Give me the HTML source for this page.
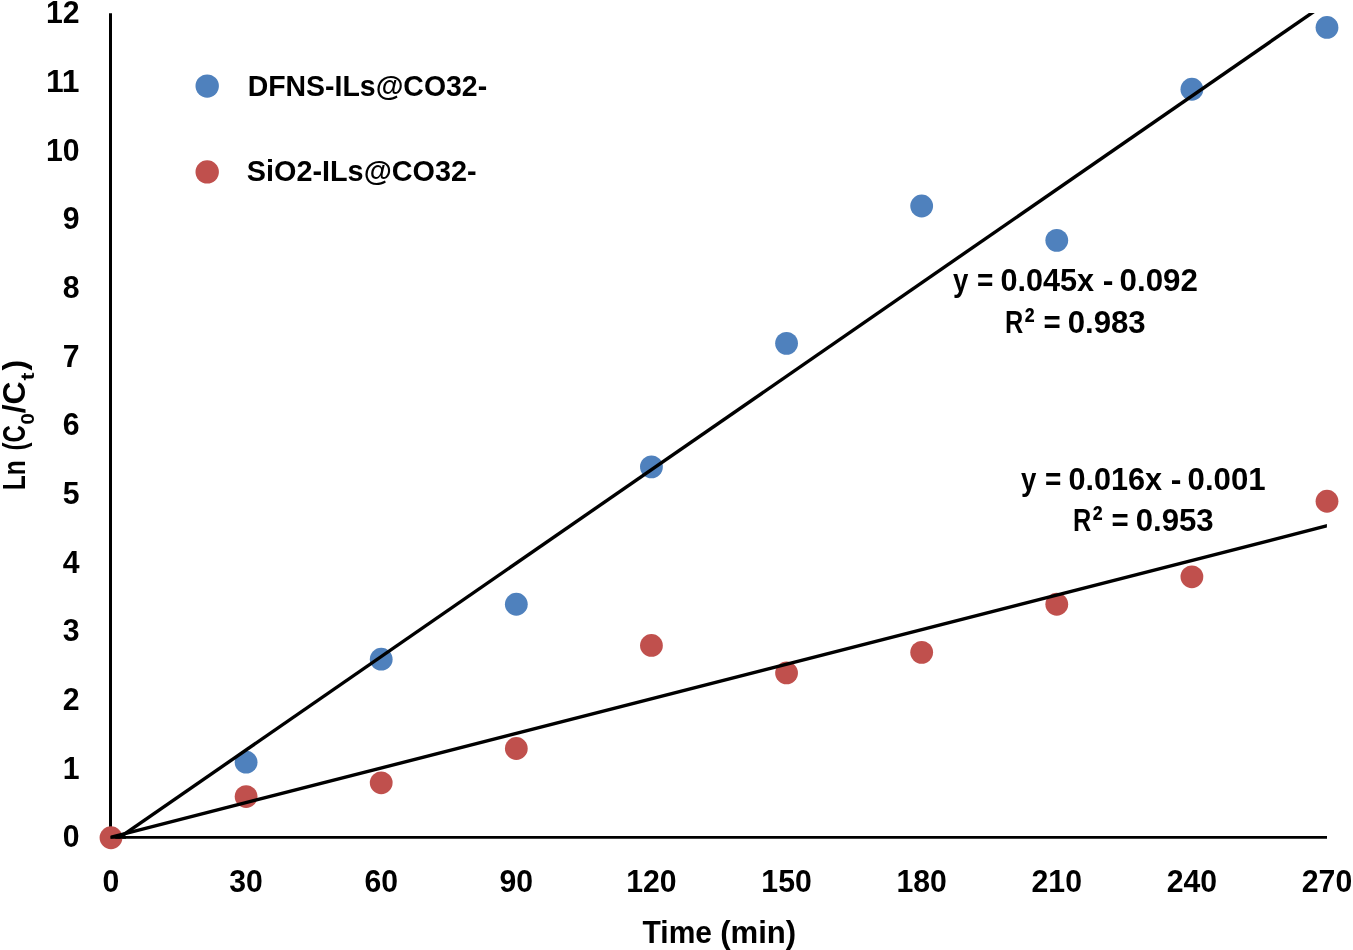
<!DOCTYPE html>
<html lang="en"><head><meta charset="utf-8"><title>Ln (C0/Ct) vs Time</title>
<style>html,body{margin:0;padding:0;background:#fff;}svg{display:block;will-change:transform;}text{font-family:"Liberation Sans",Arial,sans-serif;font-weight:bold;fill:#000;}</style></head><body>
<svg width="1353" height="950" viewBox="0 0 1353 950">
<rect width="1353" height="950" fill="#fff"/>
<line x1="110.5" y1="13.2" x2="110.5" y2="838.7" stroke="#000" stroke-width="3"/>
<line x1="109" y1="837.3" x2="1327" y2="837.3" stroke="#000" stroke-width="2.8"/>
<g fill="#4f81bd">
<circle cx="246.11" cy="762.21" r="11.4"/>
<circle cx="381.22" cy="659.21" r="11.4"/>
<circle cx="516.33" cy="604.27" r="11.4"/>
<circle cx="651.44" cy="466.93" r="11.4"/>
<circle cx="786.56" cy="343.33" r="11.4"/>
<circle cx="921.67" cy="205.99" r="11.4"/>
<circle cx="1056.78" cy="240.32" r="11.4"/>
<circle cx="1191.89" cy="89.25" r="11.4"/>
<circle cx="1327.0" cy="27.44" r="11.4"/>
</g><g fill="#c0504d">
<circle cx="111.0" cy="837.75" r="11.4"/>
<circle cx="246.11" cy="796.55" r="11.4"/>
<circle cx="381.22" cy="782.81" r="11.4"/>
<circle cx="516.33" cy="748.48" r="11.4"/>
<circle cx="651.44" cy="645.47" r="11.4"/>
<circle cx="786.56" cy="672.94" r="11.4"/>
<circle cx="921.67" cy="652.34" r="11.4"/>
<circle cx="1056.78" cy="604.27" r="11.4"/>
<circle cx="1191.89" cy="576.8" r="11.4"/>
<circle cx="1327.0" cy="501.27" r="11.4"/>
</g>
<defs><clipPath id="plot"><rect x="110.6" y="12.9" width="1216.3" height="825.8"/></clipPath></defs>
<g clip-path="url(#plot)" stroke="#000" stroke-width="3.4">
<line x1="105.34" y1="847.3" x2="1326.46" y2="2.9"/>
<line x1="98.88" y1="840.3" x2="1338.52" y2="522.9"/>
</g>
<line x1="110.6" y1="837.3" x2="126" y2="837.3" stroke="#000" stroke-width="2.8"/>
<g font-size="31.2" text-anchor="end">
<text x="79.5" y="847.25" textLength="16.8" lengthAdjust="spacingAndGlyphs">0</text>
<text x="79.5" y="778.58" textLength="16.8" lengthAdjust="spacingAndGlyphs">1</text>
<text x="79.5" y="709.91" textLength="16.8" lengthAdjust="spacingAndGlyphs">2</text>
<text x="79.5" y="641.24" textLength="16.8" lengthAdjust="spacingAndGlyphs">3</text>
<text x="79.5" y="572.57" textLength="16.8" lengthAdjust="spacingAndGlyphs">4</text>
<text x="79.5" y="503.9" textLength="16.8" lengthAdjust="spacingAndGlyphs">5</text>
<text x="79.5" y="435.23" textLength="16.8" lengthAdjust="spacingAndGlyphs">6</text>
<text x="79.5" y="366.56" textLength="16.8" lengthAdjust="spacingAndGlyphs">7</text>
<text x="79.5" y="297.89" textLength="16.8" lengthAdjust="spacingAndGlyphs">8</text>
<text x="79.5" y="229.22" textLength="16.8" lengthAdjust="spacingAndGlyphs">9</text>
<text x="79.5" y="160.55" textLength="33.6" lengthAdjust="spacingAndGlyphs">10</text>
<text x="79.5" y="91.88" textLength="33.6" lengthAdjust="spacingAndGlyphs">11</text>
<text x="79.5" y="23.21" textLength="33.6" lengthAdjust="spacingAndGlyphs">12</text>
</g>
<g font-size="31.2" text-anchor="middle">
<text x="111.0" y="891.7" textLength="16.8" lengthAdjust="spacingAndGlyphs">0</text>
<text x="246.11" y="891.7" textLength="33.6" lengthAdjust="spacingAndGlyphs">30</text>
<text x="381.22" y="891.7" textLength="33.6" lengthAdjust="spacingAndGlyphs">60</text>
<text x="516.33" y="891.7" textLength="33.6" lengthAdjust="spacingAndGlyphs">90</text>
<text x="651.44" y="891.7" textLength="50.4" lengthAdjust="spacingAndGlyphs">120</text>
<text x="786.56" y="891.7" textLength="50.4" lengthAdjust="spacingAndGlyphs">150</text>
<text x="921.67" y="891.7" textLength="50.4" lengthAdjust="spacingAndGlyphs">180</text>
<text x="1056.78" y="891.7" textLength="50.4" lengthAdjust="spacingAndGlyphs">210</text>
<text x="1191.89" y="891.7" textLength="50.4" lengthAdjust="spacingAndGlyphs">240</text>
<text x="1327.0" y="891.7" textLength="50.4" lengthAdjust="spacingAndGlyphs">270</text>
</g>
<text y="943.3" font-size="31.2" aria-label="Time (min)"><tspan x="642.50" textLength="69.51" lengthAdjust="spacingAndGlyphs">Time</tspan> <tspan x="720.14" textLength="76.06" lengthAdjust="spacingAndGlyphs">(min)</tspan></text>
<text transform="translate(25.3 488.5) rotate(-90)" font-size="31.2" aria-label="Ln (C0/Ct)"><tspan x="-1.66" textLength="29.97" lengthAdjust="spacingAndGlyphs">Ln</tspan> <tspan x="37.89" textLength="25.48" lengthAdjust="spacingAndGlyphs">(C</tspan><tspan x="64.09" textLength="11.24" lengthAdjust="spacingAndGlyphs" font-size="17.5" dy="8.4">0</tspan><tspan x="75.18" textLength="31.90" lengthAdjust="spacingAndGlyphs" dy="-8.4">/C</tspan><tspan x="108.10" textLength="8.01" lengthAdjust="spacingAndGlyphs" font-size="17.5" dy="8.4">t</tspan><tspan x="117.92" textLength="10.58" lengthAdjust="spacingAndGlyphs" dy="-8.4">)</tspan></text>
<circle cx="207.2" cy="86.1" r="11.7" fill="#4f81bd"/>
<circle cx="207.2" cy="171.9" r="11.7" fill="#c0504d"/>
<text y="95.8" font-size="28.6"><tspan x="247.68" textLength="239.47" lengthAdjust="spacingAndGlyphs">DFNS-ILs@CO32-</tspan></text>
<text y="181.3" font-size="28.6"><tspan x="246.84" textLength="229.71" lengthAdjust="spacingAndGlyphs">SiO2-ILs@CO32-</tspan></text>
<text y="291.2" font-size="31.2" aria-label="y = 0.045x - 0.092"><tspan x="952.89" textLength="15.38" lengthAdjust="spacingAndGlyphs">y</tspan> <tspan x="976.91" textLength="16.35" lengthAdjust="spacingAndGlyphs">=</tspan> <tspan x="1000.47" textLength="93.69" lengthAdjust="spacingAndGlyphs">0.045x</tspan> <tspan x="1102.82" textLength="10.68" lengthAdjust="spacingAndGlyphs">-</tspan> <tspan x="1119.55" textLength="78.33" lengthAdjust="spacingAndGlyphs">0.092</tspan></text>
<text y="333.1" font-size="31.2" aria-label="R² = 0.983"><tspan x="1005.09" textLength="18.27" lengthAdjust="spacingAndGlyphs">R</tspan><tspan x="1024.43" textLength="10.19" lengthAdjust="spacingAndGlyphs" font-size="38.5" dy="1.4">²</tspan> <tspan x="1043.45" textLength="17.17" lengthAdjust="spacingAndGlyphs" dy="-1.4">=</tspan> <tspan x="1067.65" textLength="78.04" lengthAdjust="spacingAndGlyphs">0.983</tspan></text>
<text y="489.5" font-size="31.2" aria-label="y = 0.016x - 0.001"><tspan x="1020.89" textLength="15.38" lengthAdjust="spacingAndGlyphs">y</tspan> <tspan x="1044.91" textLength="16.35" lengthAdjust="spacingAndGlyphs">=</tspan> <tspan x="1068.47" textLength="93.69" lengthAdjust="spacingAndGlyphs">0.016x</tspan> <tspan x="1170.82" textLength="10.68" lengthAdjust="spacingAndGlyphs">-</tspan> <tspan x="1187.55" textLength="78.01" lengthAdjust="spacingAndGlyphs">0.001</tspan></text>
<text y="531.4" font-size="31.2" aria-label="R² = 0.953"><tspan x="1073.09" textLength="18.27" lengthAdjust="spacingAndGlyphs">R</tspan><tspan x="1092.43" textLength="10.19" lengthAdjust="spacingAndGlyphs" font-size="38.5" dy="1.4">²</tspan> <tspan x="1111.45" textLength="17.17" lengthAdjust="spacingAndGlyphs" dy="-1.4">=</tspan> <tspan x="1135.65" textLength="78.04" lengthAdjust="spacingAndGlyphs">0.953</tspan></text>
</svg></body></html>
